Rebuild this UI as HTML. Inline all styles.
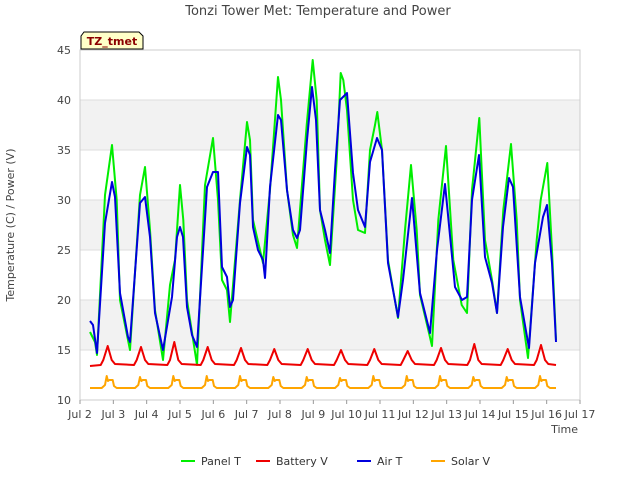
<!DOCTYPE html>
<html><head><meta charset="utf-8"><style>
body{margin:0;background:#fff;font-family:"Liberation Sans","DejaVu Sans",sans-serif;}
svg text{font-family:"DejaVu Sans","Liberation Sans",sans-serif;}
</style></head><body>
<svg id="c" width="640" height="480" viewBox="0 0 640 480">
<text x="318" y="15" text-anchor="middle" font-size="13" fill="#444">Tonzi Tower Met: Temperature and Power</text>
<g id="grid"></g>
<rect x="80" y="50" width="500" height="350" fill="none" stroke="#ccc"/>
<g id="axes"></g>
<g id="series"></g>
<text x="14" y="225" transform="rotate(-90 14 225)" text-anchor="middle" font-size="11" fill="#444">Temperature (C) / Power (V)</text>
<text x="578" y="433" text-anchor="end" font-size="11" fill="#444">Time</text>
<g>
<path d="M81,49 L81,36 L84,32 L139,32 L143,36 L143,49 Z" fill="#ffffc8" stroke="#000" stroke-width="1"/>
<text x="112" y="45" text-anchor="middle" font-size="11" font-weight="bold" fill="#8b0000">TZ_tmet</text>
</g>
<g id="legend"></g>
</svg>
<script>
const yTicks=[10,15,20,25,30,35,40,45];
const xTickLabels=["Jul 2","Jul 3","Jul 4","Jul 5","Jul 6","Jul 7","Jul 8","Jul 9","Jul 10","Jul 11","Jul 12","Jul 13","Jul 14","Jul 15","Jul 16","Jul 17"];
const airT_t=[.30,.39,.51,.75,.96,1.05,1.20,1.44,1.50,1.80,1.95,2.10,2.25,2.49,2.76,2.91,3.00,3.09,3.21,3.36,3.51,3.81,3.99,4.14,4.26,4.41,4.50,4.59,4.80,5.01,5.10,5.19,5.34,5.49,5.55,5.70,5.94,6.03,6.21,6.39,6.51,6.60,6.81,6.96,7.08,7.20,7.35,7.50,7.65,7.80,8.01,8.19,8.34,8.55,8.70,8.91,9.06,9.24,9.54,9.69,9.96,10.20,10.50,10.71,10.95,11.25,11.46,11.61,11.76,11.97,12.15,12.36,12.51,12.69,12.87,12.99,13.20,13.47,13.65,13.89,14.01,14.16,14.28];
const airT_v=[17.9,17.5,14.7,27.7,31.8,30.3,20.7,16.3,15.8,29.7,30.3,26.3,18.7,15.0,20.3,26.3,27.3,26.3,19.3,16.5,15.3,31.3,32.8,32.8,23.3,22.3,19.3,20,29.7,35.3,34.5,27.3,25,24,22.2,31.3,38.5,38,31,27,26.2,27,36,41.3,38,29,27,24.7,33,40,40.7,32.7,29,27.3,33.8,36.2,35,23.7,18.3,22,30.2,20.7,16.7,25,31.6,21.3,20,20.3,30,34.5,24.3,21.7,18.7,27.3,32.2,31.3,20.3,15.2,23.7,28.3,29.5,23.7,15.8];
const panelT_t=[.30,.45,.51,.75,.96,1.1,1.2,1.5,1.8,1.95,2.1,2.25,2.49,2.7,2.85,3.0,3.1,3.21,3.51,3.75,3.99,4.14,4.26,4.41,4.50,4.8,5.01,5.1,5.19,5.49,5.7,5.94,6.03,6.21,6.39,6.51,6.8,6.98,7.1,7.20,7.35,7.50,7.7,7.82,7.9,8.01,8.19,8.34,8.55,8.7,8.85,8.92,9.06,9.24,9.54,9.75,9.93,10.1,10.2,10.45,10.56,10.75,10.98,11.2,11.45,11.61,11.76,11.98,12.15,12.36,12.51,12.7,12.93,13.1,13.2,13.44,13.7,13.82,14.02,14.16,14.28];
const panelT_v=[16.8,15.8,14.5,30.5,35.5,30,20,15,30.5,33.3,27,19,14,21.5,24,31.5,28,20,13.5,31.5,36.2,30,22,21,17.8,30,37.8,36,28,23.7,31,42.3,40,31,26.5,25.2,37.5,44,40,29,26,23.5,34,42.7,42,39,30,27,26.7,35,37.5,38.8,35,24,18.2,27,33.5,27,20.5,17,15.4,28,35.4,24,19.5,18.7,31,38.2,26,22,18.7,29,35.6,28,20,14.2,26,30,33.7,25,16];
const batteryPeaks=[15.4,15.3,15.8,15.3,15.2,15.1,15.1,15.0,15.1,14.9,15.2,15.6,15.1,15.5];
const solarPeaks=[12.4,12.3,12.4,12.4,12.4,12.3,12.3,12.2,12.4,12.4,12.4,12.3,12.3,12.4];
const xS=t=>80+t*500/15, yS=v=>400-(v-10)*10;
const NS="http://www.w3.org/2000/svg";
function mk(tag,attrs,parent){const e=document.createElementNS(NS,tag);for(const k in attrs)e.setAttribute(k,attrs[k]);parent.appendChild(e);return e;}
const grid=document.getElementById('grid'),axes=document.getElementById('axes'),ser=document.getElementById('series');
[[15,20],[25,30],[35,40]].forEach(b=>{const r=mk('rect',{x:80,y:yS(b[1]),width:500,height:yS(b[0])-yS(b[1]),fill:'#f2f2f2'},grid);

});
yTicks.forEach(v=>{const l=mk('line',{x1:80,x2:580,y1:yS(v),y2:yS(v),stroke:'#ddd'},grid);


const t=mk('text',{x:71,y:yS(v)+4,'text-anchor':'end','font-size':11,fill:'#444'},axes);t.textContent=v;

});
xTickLabels.forEach((s,i)=>{const x=xS(i);mk('line',{x1:x,x2:x,y1:400,y2:404,stroke:'#999'},axes);
const t=mk('text',{x:x,y:418,'text-anchor':'middle','font-size':11,fill:'#444'},axes);t.textContent=s;

});
function line(ts,vs,color,name){const d=ts.map((t,i)=>(i?'L':'M')+xS(t).toFixed(1)+','+yS(vs[i]).toFixed(1)).join('');
const p=mk('path',{d:d,fill:'none',stroke:color,'stroke-width':2,'stroke-linejoin':'round'},ser);

}
// battery/solar daily profiles from peak arrays
const bt=[.30],bv=[13.4],st=[.30],sv=[11.2];
batteryPeaks.forEach((pk,d)=>{bt.push(d+.62,d+.70,d+.83,d+.95,d+1.05);bv.push(13.5,14.0,pk,14.0,13.6);});
bt.push(14.28);bv.push(13.5);
solarPeaks.forEach((pk,d)=>{st.push(d+.65,d+.75,d+.80,d+.84,d+.88,d+.98,d+1.02,d+1.1);sv.push(11.2,11.5,pk,11.9,12.0,12.0,11.4,11.2);});
st.push(14.28);sv.push(11.2);
line(panelT_t,panelT_v,'#00ee00','panel-t-line');
line(bt,bv,'#ee0000','battery-v-line');
line(airT_t,airT_v,'#0000dd','air-t-line');
line(st,sv,'#ffa500','solar-v-line');
const leg=document.getElementById('legend');
[['Panel T','#00ee00',181],['Battery V','#ee0000',256],['Air T','#0000dd',357],['Solar V','#ffa500',431]].forEach(e=>{
const g=mk('g',{},leg);


mk('line',{x1:e[2],x2:e[2]+14,y1:461,y2:461,stroke:e[1],'stroke-width':2},g);
const t=mk('text',{x:e[2]+20,y:465,'font-size':11,fill:'#333'},g);t.textContent=e[0];});
</script>
</body></html>
